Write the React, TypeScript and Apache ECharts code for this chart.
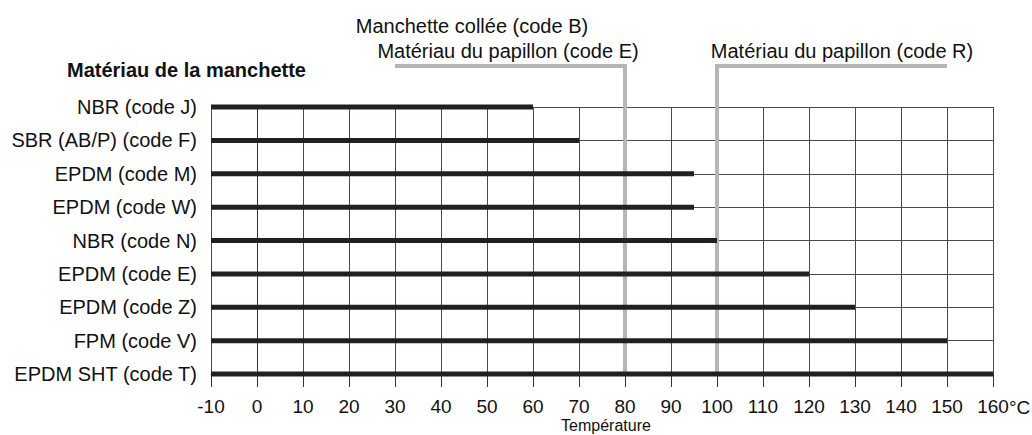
import React, { useEffect, useRef } from "react";
import * as echarts from "echarts";

const categories = [
  "NBR (code J)",
  "SBR (AB/P) (code F)",
  "EPDM (code M)",
  "EPDM (code W)",
  "NBR (code N)",
  "EPDM (code E)",
  "EPDM (code Z)",
  "FPM (code V)",
  "EPDM SHT (code T)",
];
const maxTemps = [60, 70, 95, 95, 100, 120, 130, 150, 160];
const axisMin = -10;
const axisMax = 160;
const axisStep = 10;
// annotation brackets: [start of horizontal part, value of vertical line]
const bracketE = [30, 80];
const bracketR = [150, 100];

const FONT = "'Liberation Sans', Arial, Helvetica, sans-serif";

export default function App() {
  const ref = useRef<HTMLDivElement>(null);
  useEffect(() => {
    if (!ref.current) return;
    document.body.style.margin = "0";
    const chart = echarts.init(ref.current, null, { renderer: "svg" });
    chart.setOption({
      animation: false,
      backgroundColor: "#ffffff",
      grid: { left: 211, right: 39, top: 107, bottom: 61, containLabel: false },
      xAxis: {
        type: "value",
        min: axisMin,
        max: axisMax,
        interval: axisStep,
        axisLine: { show: true, lineStyle: { color: "#333", width: 1 } },
        axisTick: { show: true, length: 13, lineStyle: { color: "#333", width: 1 } },
        axisLabel: { fontFamily: FONT, fontSize: 19, color: "#111", margin: 23 },
        splitLine: { show: true, lineStyle: { color: "#4a4a4a", width: 1 } },
      },
      yAxis: {
        type: "category",
        inverse: true,
        boundaryGap: false,
        data: categories,
        axisLine: { show: true, lineStyle: { color: "#333", width: 1 } },
        axisTick: { show: false },
        axisLabel: { fontFamily: FONT, fontSize: 20, color: "#111", margin: 14 },
        splitLine: { show: true, lineStyle: { color: "#4a4a4a", width: 1 } },
      },
      series: [
        {
          type: "custom",
          z: 5,
          encode: { x: 0, y: 1 },
          data: maxTemps.map((v, i) => [v, i]),
          renderItem: (params: any, api: any) => {
            const idx = api.value(1);
            const start = api.coord([axisMin, idx]);
            const end = api.coord([api.value(0), idx]);
            return {
              type: "rect",
              shape: { x: start[0], y: start[1] - 2.5, width: end[0] - start[0], height: 5 },
              style: { fill: "#231f20" },
            };
          },
        },
      ],
    });

    const px = (v: number, c: number) => chart.convertToPixel({ gridIndex: 0 }, [v, c]) as number[];
    const topY = 66;
    const bottomIdx = categories.length - 1;
    const mk = (b: number[]) => {
      const a = px(b[0], 0);
      const v = px(b[1], bottomIdx);
      return {
        type: "polyline",
        z: 1,
        shape: { points: [[a[0], topY], [v[0], topY], [v[0], v[1]]] },
        style: { stroke: "#b5b5ba", lineWidth: 4, fill: "none" },
      };
    };
    const p160 = px(axisMax, bottomIdx);
    const textStyle = { fontFamily: FONT, fontSize: 20, fill: "#111" };
    chart.setOption({
      graphic: [
        mk(bracketE),
        mk(bracketR),
        { type: "text", x: 67, y: 70, style: { ...textStyle, fontWeight: "bold", text: "Matériau de la manchette", align: "left", verticalAlign: "middle" } },
        { type: "text", x: 472, y: 26, style: { ...textStyle, text: "Manchette collée (code B)", align: "center", verticalAlign: "middle" } },
        { type: "text", x: 508, y: 51, style: { ...textStyle, text: "Matériau du papillon (code E)", align: "center", verticalAlign: "middle" } },
        { type: "text", x: 842, y: 51, style: { ...textStyle, text: "Matériau du papillon (code R)", align: "center", verticalAlign: "middle" } },
        { type: "text", x: p160[0] + 16, y: 407, style: { ...textStyle, fontSize: 19, text: "°C", align: "left", verticalAlign: "middle" } },
        { type: "text", x: 606, y: 425, style: { ...textStyle, fontSize: 16, text: "Température", align: "center", verticalAlign: "middle" } },
      ],
    });
    return () => chart.dispose();
  }, []);
  return <div ref={ref} style={{ width: 1032, height: 435 }} />;
}
